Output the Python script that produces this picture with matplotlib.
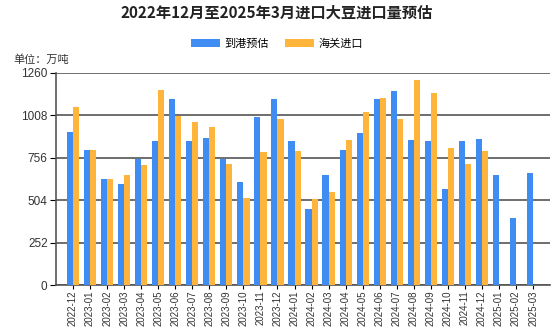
import numpy as np
import matplotlib
matplotlib.use("Agg")
import matplotlib.pyplot as plt

plt.rcParams['font.family'] = ['Noto Sans CJK SC', 'DejaVu Sans']

# Monthly soybean imports, 10k tonnes
months = ['2022-12', '2023-01', '2023-02', '2023-03', '2023-04', '2023-05', '2023-06',
          '2023-07', '2023-08', '2023-09', '2023-10', '2023-11', '2023-12', '2024-01',
          '2024-02', '2024-03', '2024-04', '2024-05', '2024-06', '2024-07', '2024-08',
          '2024-09', '2024-10', '2024-11', '2024-12', '2025-01', '2025-02', '2025-03']
arrival_est = [911, 802, 628, 602, 747, 854, 1104, 854, 874, 747, 612, 998, 1104, 854,
               450, 652, 802, 901, 1104, 1151, 864, 854, 571, 854, 870, 652, 398, 664]
customs = [1056, 802, 628, 654, 711, 1161, 1006, 969, 937, 717, 519, 791, 985, 797,
           513, 555, 860, 1026, 1113, 989, 1218, 1141, 812, 717, 797, np.nan, np.nan, np.nan]
yticks = [0, 252, 504, 756, 1008, 1260]

blue = '#3f8cf2'
orange = '#ffb43c'

fig = plt.figure(figsize=(5.54, 3.30), dpi=100)
ax = fig.add_axes([0.101, 0.136, 0.892, 0.643])

x = np.arange(len(months))
w = 0.36
ax.bar(x - w / 2, arrival_est, w, color=blue, label='到港预估', zorder=3)
ax.bar(x + w / 2, customs, w, color=orange, label='海关进口', zorder=3)

ax.set_xlim(-1, len(months))
ax.set_ylim(0, 1260)
ax.set_yticks(yticks)
ax.set_yticklabels([str(v) for v in yticks], fontsize=8.5, color='#333333',
                   family='Liberation Sans')
ax.set_xticks(x)
ax.set_xticklabels(months, rotation=90, fontsize=7, color='#333333',
                   family='Liberation Sans')
ax.tick_params(axis='y', length=4, pad=2)
ax.tick_params(axis='x', length=3, pad=1)

ax.grid(axis='y', color='#555555', linewidth=1.2, zorder=0)
for side in ['top', 'right']:
    ax.spines[side].set_visible(False)
for side in ['left', 'bottom']:
    ax.spines[side].set_color('#555555')
    ax.spines[side].set_linewidth(1.2)

fig.text(0.5, 0.963, '2022年12月至2025年3月进口大豆进口量预估', ha='center', va='center',
         fontsize=11, fontweight='bold', color='#222222')
fig.text(0.025, 0.818, '单位：万吨', ha='left', va='center', fontsize=8, color='#333333')

fig.legend(loc='center', bbox_to_anchor=(0.5, 0.867), ncol=2, frameon=False,
           fontsize=8, handlelength=2.6, handleheight=0.8, columnspacing=1.5,
           handletextpad=0.4)

fig.savefig('out.png', dpi=100)
